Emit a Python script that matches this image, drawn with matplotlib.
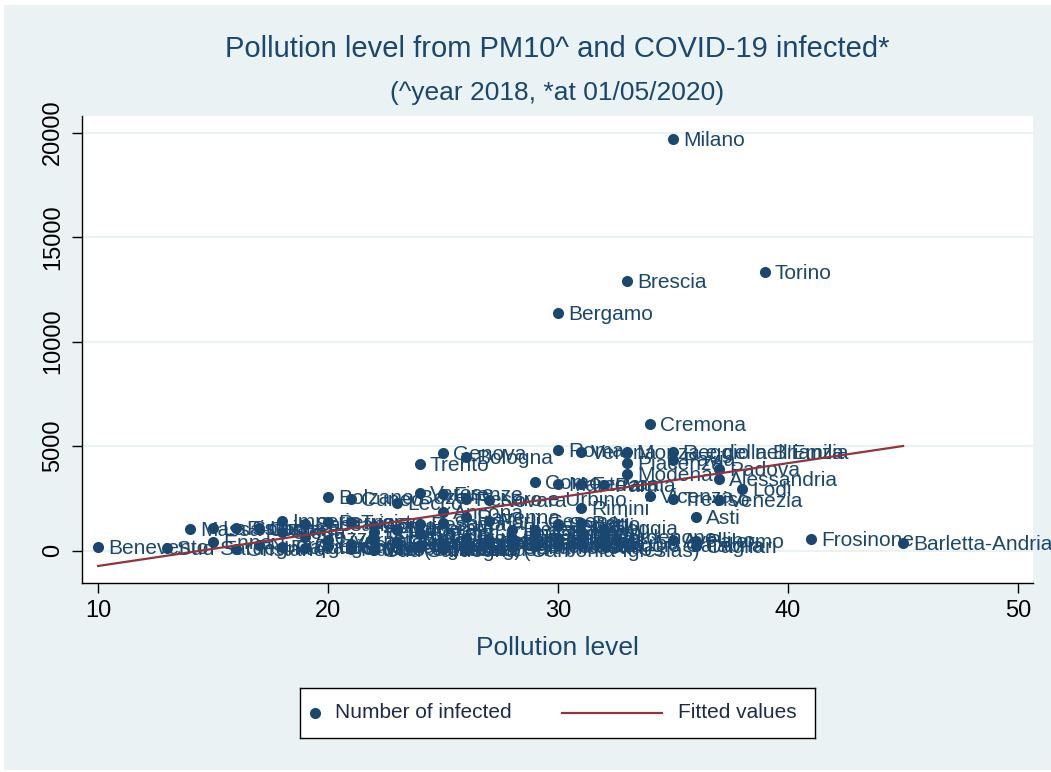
import matplotlib.pyplot as plt
from matplotlib.patches import Rectangle
from matplotlib.lines import Line2D

plt.rcParams["font.family"] = ["Liberation Sans", "DejaVu Sans"]

# provinces, PM10 level (2018) and infected (01/05/2020)
provinces = [
    "Milano", "Torino", "Brescia", "Bergamo", "Cremona", "Roma", "Verona",
    "Monza e della Brianza", "Reggio nell'Emilia", "Genova", "Bologna", "Pavia",
    "Piacenza", "Trento", "Padova", "Modena", "Alessandria", "Como", "Mantova",
    "Ferrara", "Parma", "Lodi", "Varese", "Firenze", "Pesaro e Urbino", "Novara",
    "Vicenza", "Treviso", "Venezia", "Bolzano/Bozen", "Cuneo", "Lecco", "Rimini",
    "Ancona", "Ravenna", "Forlì-Cesena", "Asti", "Frosinone", "Barletta-Andria-Trani",
    "Benevento", "Sud Sardegna", "Massa-Carrara", "Imperia",
    "La Spezia", "Enna", "Pistoia", "Oristano", "Lucca", "Nuoro", "Siena", "Trapani",
    "Arezzo", "Sassari", "Agrigento", "Perugia", "Livorno", "Catanzaro", "Trieste",
    "Ascoli Piceno", "Crotone", "Aosta", "Belluno", "Teramo", "Vibo Valentia",
    "Udine", "Macerata", "Rieti", "Potenza", "Pescara", "Chieti", "L'Aquila",
    "Matera", "Savona", "Gorizia", "Isernia", "Siracusa", "Fermo", "Pisa", "Ragusa",
    "Latina", "Caserta", "Messina", "Biella", "Campobasso", "Brindisi", "Lecce",
    "Verbania", "Catania", "Cosenza", "Vercelli", "Rovigo", "Taranto",
    "Salerno", "Prato", "Terni", "Bari", "Napoli", "Pordenone", "Viterbo",
    "Reggio Calabria", "Foggia", "Sondrio", "Grosseto", "Avellino", "Palermo",
    "Cagliari", "Caltanissetta", "Sud Sardegna (Carbonia-Iglesias)",
    "Sassari (Olbia-Tempio)", "Nuoro (Ogliastra)",
]
pm10 = [
    35, 39, 33, 30, 34, 30, 31,
    33, 35, 25, 26, 35,
    33, 24, 37, 33, 37, 29, 30,
    31, 32, 38, 24, 25, 26, 27,
    34, 35, 37, 20, 21, 23, 31,
    25, 26, 27, 36, 41, 45,
    10, 13, 14, 18,
    15, 15, 16, 16, 17, 17, 18, 18,
    19, 19, 19, 20, 20, 20, 21,
    21, 21, 22, 22, 22, 22,
    23, 23, 23, 23, 24, 24, 24,
    24, 25, 25, 25, 25, 26, 26, 26,
    27, 27, 27, 28, 28, 28, 28,
    29, 29, 29, 30, 30, 30,
    30, 31, 31, 31, 31, 32, 32,
    32, 32, 30, 29, 35, 36,
    36, 28, 22,
    24, 21,
]
infected = [
    19700, 13330, 12900, 11360, 6050, 4800, 4720,
    4700, 4700, 4660, 4460, 4350,
    4180, 4130, 3900, 3660, 3420, 3280, 3180,
    3160, 3150, 2940, 2750, 2700, 2480, 2400,
    2600, 2450, 2400, 2540, 2480, 2280, 2030,
    1840, 1620, 1430, 1600, 560, 360,
    170, 120, 1030, 1400,
    1080, 410, 1090, 80, 1070, 270, 900, 150,
    650, 1250, 140, 1370, 500, 200, 1380,
    300, 120, 1150, 900, 570, 80,
    1000, 1050, 400, 350, 1250, 800, 240,
    190, 1300, 300, 60, 350, 400, 600, 80,
    480, 370, 460, 1000, 300, 600, 500,
    1000, 780, 400, 1150, 400, 250,
    600, 550, 300, 1300, 900, 650, 350,
    250, 1050, 1250, 200, 480, 470,
    200, 150, 40,
    840, 50,
]

# fitted values (linear fit) at the ends of the data range
fit_x = [10, 45]
fit_y = [-740, 5000]

navy = "#1a476f"
maroon = "#90353b"
bg = "#eaf2f3"

fig = plt.figure(figsize=(10.51, 7.72), dpi=100)
fig.patches.append(Rectangle((4 / 1051, 2 / 772), 1 - 4 / 1051, 1 - 7 / 772,
                             transform=fig.transFigure, facecolor=bg,
                             edgecolor="none", zorder=-10))

ax = fig.add_axes([82 / 1051, 1 - 583 / 772, 951 / 1051, 467 / 772])
ax.set_facecolor("white")
ax.scatter(pm10, infected, s=64, color=navy, zorder=3, linewidths=0)
for name, x, y in zip(provinces, pm10, infected):
    ax.annotate(name, (x, y), xytext=(7, -1), textcoords="offset points",
                va="center", ha="left", fontsize=15, color=navy, zorder=3)
ax.plot(fit_x, fit_y, color=maroon, lw=1.6, zorder=4)

ax.set_xlim(9.3, 50.65)
ax.set_ylim(-1555, 20790)
ax.set_xticks([10, 20, 30, 40, 50])
ax.set_yticks([0, 5000, 10000, 15000, 20000])
ax.set_yticklabels(["0", "5000", "10000", "15000", "20000"], rotation=90,
                   va="center")
ax.tick_params(axis="both", length=7, width=1, labelsize=17, colors="black")
ax.tick_params(axis="y", pad=6)
ax.tick_params(axis="x", pad=5)
ax.grid(axis="y", color=bg, lw=1.6)
ax.set_axisbelow(True)
for s in ["top", "right"]:
    ax.spines[s].set_visible(False)
ax.spines["left"].set_linewidth(1)
ax.spines["bottom"].set_linewidth(1)
ax.set_xlabel("Pollution level", fontsize=19, color=navy, labelpad=10)

fig.text(557.5 / 1051, 1 - 49 / 772, "Pollution level from PM10^ and COVID-19 infected*",
         ha="center", va="center", fontsize=21, color=navy)
fig.text(557.5 / 1051, 1 - 93 / 772, "(^year 2018, *at 01/05/2020)",
         ha="center", va="center", fontsize=19, color=navy)

# legend box
lg = fig.add_axes([300 / 1051, 1 - 738 / 772, 515 / 1051, 50 / 772])
lg.set_xlim(0, 515)
lg.set_ylim(0, 50)
lg.set_xticks([])
lg.set_yticks([])
for s in lg.spines.values():
    s.set_linewidth(1)
lg.add_line(Line2D([15], [25], marker="o", markersize=7, color=navy, lw=0))
lg.text(35, 25, "Number of infected", va="center", fontsize=15, color="#1e2a4a")
lg.add_line(Line2D([262, 362], [25, 25], color=maroon, lw=1.6))
lg.text(378, 25, "Fitted values", va="center", fontsize=15, color="#1e2a4a")

fig.savefig("out.png", dpi=100)
